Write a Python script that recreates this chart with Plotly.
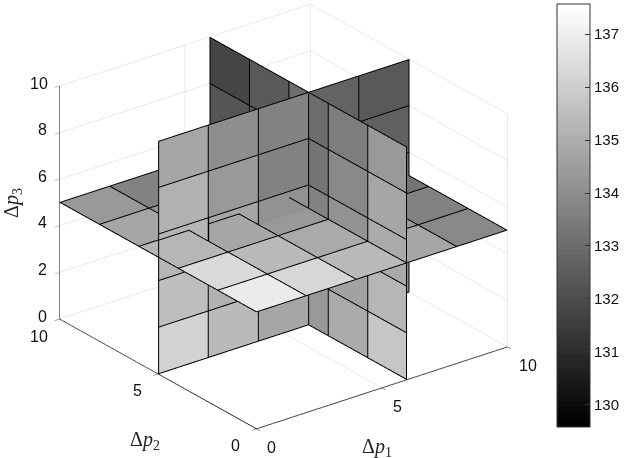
import plotly.graph_objects as go

# Cell edges along every axis
edges = [0, 2, 4, 6, 8, 10]

# Slice positions
slice_p1 = 6
slice_p2 = 5
slice_p3 = 5

# Values on the slice p1 = 6: rows are p3 cells, columns are p2 cells
values_p1 = [
    [135.7, 134.9, 134.3, 133.8, 133.2],
    [135.2, 134.6, 134.0, 133.5, 133.0],
    [134.9, 134.1, 133.65, 133.1, 132.6],
    [134.75, 133.8, 133.3, 132.7, 132.25],
    [134.3, 133.5, 133.0, 132.4, 131.8],
]
# Values on the slice p2 = 5: rows are p3 cells, columns are p1 cells
values_p2 = [
    [136.1, 135.4, 134.75, 134.4, 134.0],
    [135.5, 135.05, 134.4, 134.1, 133.3],
    [135.2, 134.75, 134.1, 133.7, 133.0],
    [135.05, 134.3, 133.65, 133.2, 132.6],
    [134.75, 134.0, 133.65, 132.7, 132.4],
]
# Values on the slice p3 = 5: rows are p2 cells, columns are p1 cells
values_p3 = [
    [136.85, 136.2, 135.4, 134.75, 133.8],
    [136.3, 135.4, 134.9, 134.3, 133.65],
    [135.2, 134.75, 134.3, 133.7, 133.2],
    [134.75, 134.2, 133.7, 133.2, 132.9],
    [134.3, 133.65, 133.3, 132.9, 132.6],
]

color_min = 129.58
color_max = 137.57
color_ticks = [130, 131, 132, 133, 134, 135, 136, 137]
axis_ticks_p = [0, 5, 10]
axis_ticks_z = [0, 2, 4, 6, 8, 10]

xs, ys, zs, ia, ib, ic, intensity = [], [], [], [], [], [], []
lx, ly, lz = [], [], []

# Lines sit a hair towards the viewer so the faces they border do not swallow them
LIFT = (-0.022, -0.028, 0.021)


def add_line(points):
    for c in points:
        lx.append(max(0, c[0] + LIFT[0])); ly.append(max(0, c[1] + LIFT[1])); lz.append(min(10, c[2] + LIFT[2]))
    lx.append(None); ly.append(None); lz.append(None)


def add_fill(corners, value):
    n = len(xs)
    for c in corners:
        xs.append(c[0]); ys.append(c[1]); zs.append(c[2])
    ia.extend([n, n]); ib.extend([n + 1, n + 2]); ic.extend([n + 2, n + 3])
    intensity.extend([value, value])


def add_cell(corners, value):
    add_fill(corners, value)
    add_line(corners + corners[:1])


for r in range(5):
    for c in range(5):
        a0, a1, b0, b1 = edges[c], edges[c + 1], edges[r], edges[r + 1]
        add_cell([(slice_p1, a0, b0), (slice_p1, a1, b0), (slice_p1, a1, b1), (slice_p1, a0, b1)], values_p1[r][c])
        add_cell([(a0, slice_p2, b0), (a1, slice_p2, b0), (a1, slice_p2, b1), (a0, slice_p2, b1)], values_p2[r][c])
        add_cell([(a0, b0, slice_p3), (a1, b0, slice_p3), (a1, b1, slice_p3), (a0, b1, slice_p3)], values_p3[r][c])

# In the reference the floor-plane cells that straddle p2 = 5 are painted over the p2 slice
# as a whole. Their far half is carried along the line of sight onto the front of that slice.
SHIFT_P1 = 0.785
SHIFT_Z = 0.75
FRONT = slice_p2 - 0.02


def seen_on_slice(p1, p2):
    d = p2 - slice_p2
    return (p1 - SHIFT_P1 * d, FRONT, slice_p3 + SHIFT_Z * d)


far = edges[3]
e0, e1, e2, e3 = edges[0], edges[1], edges[2], edges[3]
top_z = seen_on_slice(e1, far)[2]
c_a = seen_on_slice(e1, far)
c_b = seen_on_slice(e2, far)
add_fill([(e0, FRONT, slice_p3), (e1, FRONT, slice_p3), c_a, (e0, FRONT, top_z)], values_p3[2][0])
add_fill([(e1, FRONT, slice_p3), (e2, FRONT, slice_p3), c_b, (e1, FRONT, top_z)], values_p3[2][1])
add_line([(e0, FRONT, top_z), (c_a[0], FRONT, top_z), (e1, FRONT, slice_p3)])
add_line([(e1, FRONT, top_z), (c_b[0], FRONT, top_z), (e2, FRONT, slice_p3)])
add_line([(e1, FRONT, edges[2]), (e1, FRONT, edges[3])])
c_c = seen_on_slice(e3, far)
add_line([(c_c[0], FRONT, c_c[2]), (e3, FRONT, slice_p3)])

levels = 64
scale = []
for i in range(levels):
    g = round(255 * i / (levels - 1))
    col = f"rgb({g},{g},{g})"
    scale.append([i / levels, col])
    scale.append([(i + 1) / levels, col])

W, H = 624, 458
fig = go.Figure()
fig.add_trace(go.Mesh3d(
    x=xs, y=ys, z=zs, i=ia, j=ib, k=ic,
    intensity=intensity, intensitymode="cell",
    colorscale=scale, cmin=color_min, cmax=color_max,
    flatshading=True,
    lighting=dict(ambient=1, diffuse=0, specular=0, roughness=1, fresnel=0),
    hoverinfo="skip",
    colorbar=dict(
        x=557 / W, xanchor="left", xpad=0,
        y=1 - 4 / H, yanchor="top", ypad=0,
        len=423 / H, lenmode="fraction",
        thickness=33, thicknessmode="pixels",
        outlinewidth=1, outlinecolor="#333333",
        ticks="inside", ticklen=5, tickcolor="#333333",
        tickvals=color_ticks, ticktext=[str(t) for t in color_ticks],
        tickfont=dict(family="Liberation Sans", size=15, color="#111111"),
    ),
))
fig.add_trace(go.Scatter3d(
    x=lx, y=ly, z=lz, mode="lines",
    line=dict(color="#000000", width=2),
    hoverinfo="skip", showlegend=False,
))


def axis(ticks, line):
    return dict(
        range=[0, 10], autorange=False, tickvals=ticks, showticklabels=False,
        showgrid=True, gridcolor="#d4d4d4", gridwidth=1,
        showline=True, linecolor=line, linewidth=2,
        ticks="outside", ticklen=6, tickcolor=line,
        zeroline=False, showbackground=False, showspikes=False,
        title=dict(text=""),
    )


tick_font = dict(family="Liberation Sans", size=16, color="#111111")


def tick_note(x, y, z, text, dx, dy):
    return dict(x=x, y=y, z=z, text=str(text), showarrow=False, xshift=dx, yshift=dy, font=tick_font)


notes = []
for t in axis_ticks_p:
    notes.append(tick_note(t, 0, 0, t, 20 if t == 10 else 15, -19))
    notes.append(tick_note(0, t, 0, t, -21, -17))
for t in axis_ticks_z:
    notes.append(tick_note(0, 10, t, t, -21 if t == 10 else -17, 3))

dist = 2.0
eye = (-0.55 * dist, -0.7186 * dist, 0.4268 * dist)
label_font = dict(family="Liberation Serif", size=20, color="#222222")
k = 1.4596


def label(text, px, py, angle=0):
    return dict(text=text, x=px / W, y=1 - py / H, xref="paper", yref="paper",
                xanchor="center", yanchor="middle", showarrow=False, font=label_font, textangle=angle)


fig.update_layout(
    width=W, height=H, margin=dict(l=0, r=0, t=0, b=0),
    paper_bgcolor="white", showlegend=False,
    scene=dict(
        domain=dict(x=[0, 568 / W], y=[25 / H, 1]),
        xaxis=axis(axis_ticks_p, "#222222"),
        yaxis=axis(axis_ticks_p, "#222222"),
        zaxis=axis(axis_ticks_z, "#808080"),
        aspectmode="manual", aspectratio=dict(x=1 * k, y=1.026 * k, z=0.815 * k),
        camera=dict(
            projection=dict(type="orthographic"),
            eye=dict(x=eye[0], y=eye[1], z=eye[2]),
            up=dict(x=0, y=0, z=1), center=dict(x=0, y=0, z=0),
        ),
        annotations=notes,
    ),
    annotations=[
        label("Δ<i>p</i><sub>1</sub>", 378, 447),
        label("Δ<i>p</i><sub>2</sub>", 145, 440),
        label("Δ<i>p</i><sub>3</sub>", 12, 203, -90),
    ],
)
fig.write_html("out.html", config={"displayModeBar": False},
               post_script="document.body.style.margin='0';")
